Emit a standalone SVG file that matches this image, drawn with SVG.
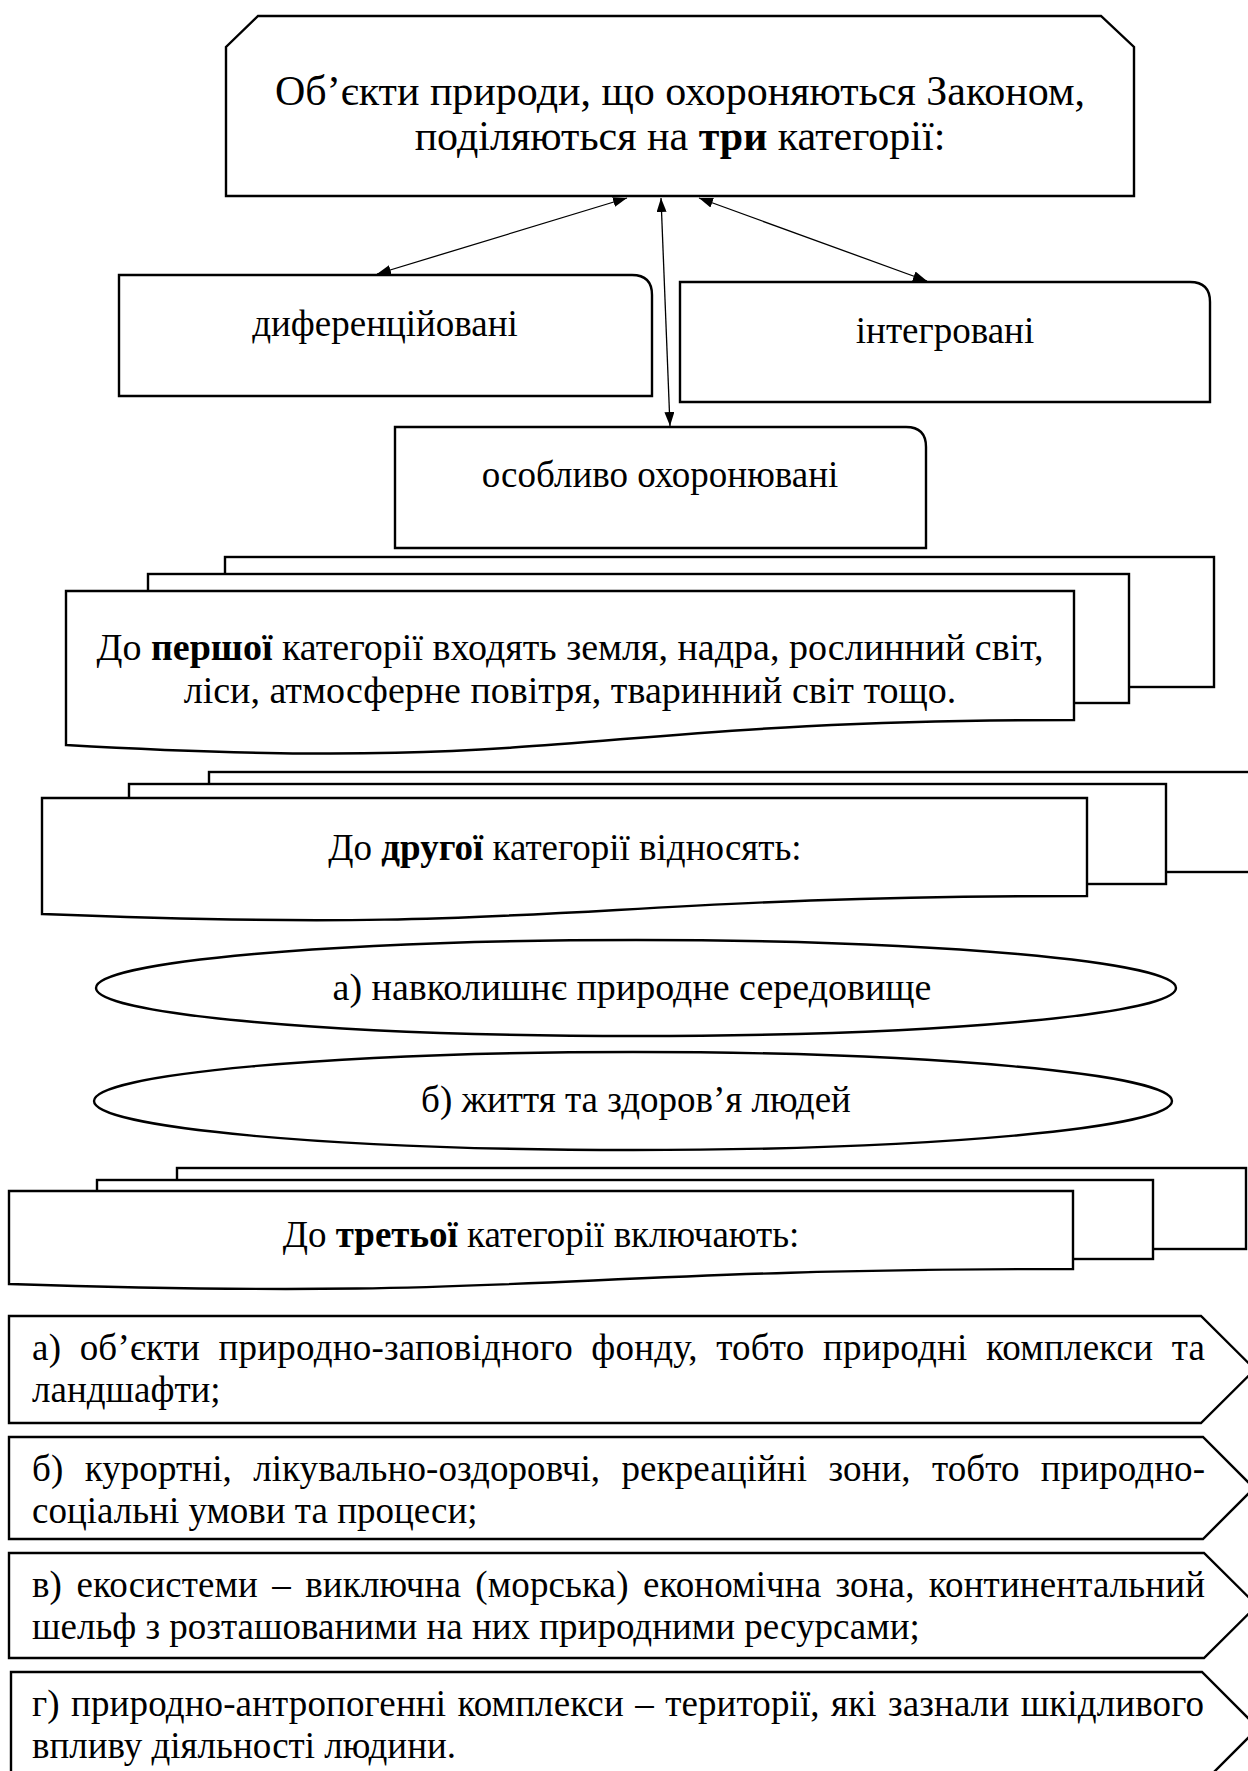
<svg xmlns="http://www.w3.org/2000/svg" width="1248" height="1771" viewBox="0 0 1248 1771">
<defs>
<marker id="ah" viewBox="0 0 14 10" refX="14" refY="5" markerWidth="14" markerHeight="10" markerUnits="userSpaceOnUse" orient="auto-start-reverse">
<path d="M0,0 L14,5 L0,10 Z" fill="#000"/>
</marker>
</defs>
<style>
.s{fill:#fff;stroke:#000;stroke-width:2.4;stroke-linejoin:miter}
.t{font-family:"Liberation Serif","Times New Roman",serif;font-size:37px;fill:#000}
.big{font-size:42px}
.m{font-size:38px}
.c{text-anchor:middle}
.b{font-weight:bold}
.con{stroke:#000;stroke-width:1.3;fill:none;marker-start:url(#ah);marker-end:url(#ah)}
</style>
<rect width="1248" height="1771" fill="#fff"/>

<g id="top">
<path class="s" d="M258,16 H1101 L1134,47 V196 H226 V47 Z"/>
<text class="t big c" x="680" y="105">Об’єкти природи, що охороняються Законом,</text>
<text class="t big c" x="680" y="150">поділяються на <tspan class="b">три</tspan> категорії:</text>
</g>

<g id="dif">
<path class="s" d="M119,275 H632 Q652,275 652,295 V396 H119 Z"/>
<text class="t c" x="385" y="336">диференційовані</text>
</g>

<g id="int">
<path class="s" d="M680,282 H1190 Q1210,282 1210,302 V402 H680 Z"/>
<text class="t c" x="945" y="343">інтегровані</text>
</g>

<g id="osob">
<path class="s" d="M395,427 H906 Q926,427 926,447 V548 H395 Z"/>
<text class="t c" x="660" y="487">особливо охоронювані</text>
</g>

<g id="connectors">
<line class="con" x1="627" y1="198" x2="377" y2="274"/>
<line class="con" x1="661" y1="198" x2="670" y2="426"/>
<line class="con" x1="699" y1="198" x2="927" y2="281"/>
</g>

<g id="cat1">
<rect class="s" x="225" y="557" width="989" height="130"/>
<rect class="s" x="148" y="574" width="981" height="129"/>
<path class="s" d="M66,591 H1074 V720 C570,720 570,774 66,745 Z"/>
<text class="t m c" x="570" y="660">До <tspan class="b">першої</tspan> категорії входять земля, надра, рослинний світ,</text>
<text class="t m c" x="570" y="703">ліси, атмосферне повітря, тваринний світ тощо.</text>
</g>

<g id="cat2">
<rect class="s" x="209" y="772" width="1060" height="100"/>
<rect class="s" x="129" y="784" width="1037" height="100"/>
<path class="s" d="M42,798 H1087 V896 C565,896 565,935 42,914 Z"/>
<text class="t c" x="565" y="860">До <tspan class="b">другої</tspan> категорії відносять:</text>
</g>

<g id="ell-a">
<ellipse class="s" cx="636" cy="988" rx="540" ry="48"/>
<text class="t m c" x="632" y="1000">а) навколишнє природне середовище</text>
</g>

<g id="ell-b">
<ellipse class="s" cx="633" cy="1101" rx="539" ry="49"/>
<text class="t c" x="636" y="1112">б) життя та здоров’я людей</text>
</g>

<g id="cat3">
<rect class="s" x="177" y="1168" width="1069" height="81"/>
<rect class="s" x="97" y="1180" width="1056" height="79"/>
<path class="s" d="M9,1191 H1073 V1269 C541,1269 541,1301 9,1284 Z"/>
<text class="t c" x="541" y="1247">До <tspan class="b">третьої</tspan> категорії включають:</text>
</g>

<g id="item-a">
<path class="s" d="M9,1316 H1201 L1255,1369.5 L1201,1423 H9 Z"/>
<text class="t" x="32" y="1360" word-spacing="9" textLength="1173" lengthAdjust="spacing">а) об’єкти природно-заповідного фонду, тобто природні комплекси та</text>
<text class="t" x="32" y="1402">ландшафти;</text>
</g>

<g id="item-b">
<path class="s" d="M9,1437 H1203 L1254,1488 L1203,1539 H9 Z"/>
<text class="t" x="32" y="1481" word-spacing="12" textLength="1173" lengthAdjust="spacing">б) курортні, лікувально-оздоровчі, рекреаційні зони, тобто природно-</text>
<text class="t" x="32" y="1523">соціальні умови та процеси;</text>
</g>

<g id="item-c">
<path class="s" d="M9,1553 H1204 L1257,1605.5 L1204,1658 H9 Z"/>
<text class="t" x="32" y="1597" word-spacing="5" textLength="1173" lengthAdjust="spacing">в) екосистеми – виключна (морська) економічна зона, континентальний</text>
<text class="t" x="32" y="1639">шельф з розташованими на них природними ресурсами;</text>
</g>

<g id="item-d">
<path class="s" d="M11,1672 H1202 L1258,1728 L1202,1784 H11 Z"/>
<text class="t" x="32" y="1716" word-spacing="2" textLength="1172" lengthAdjust="spacing">г) природно-антропогенні комплекси – території, які зазнали шкідливого</text>
<text class="t" x="32" y="1758">впливу діяльності людини.</text>
</g>
</svg>
